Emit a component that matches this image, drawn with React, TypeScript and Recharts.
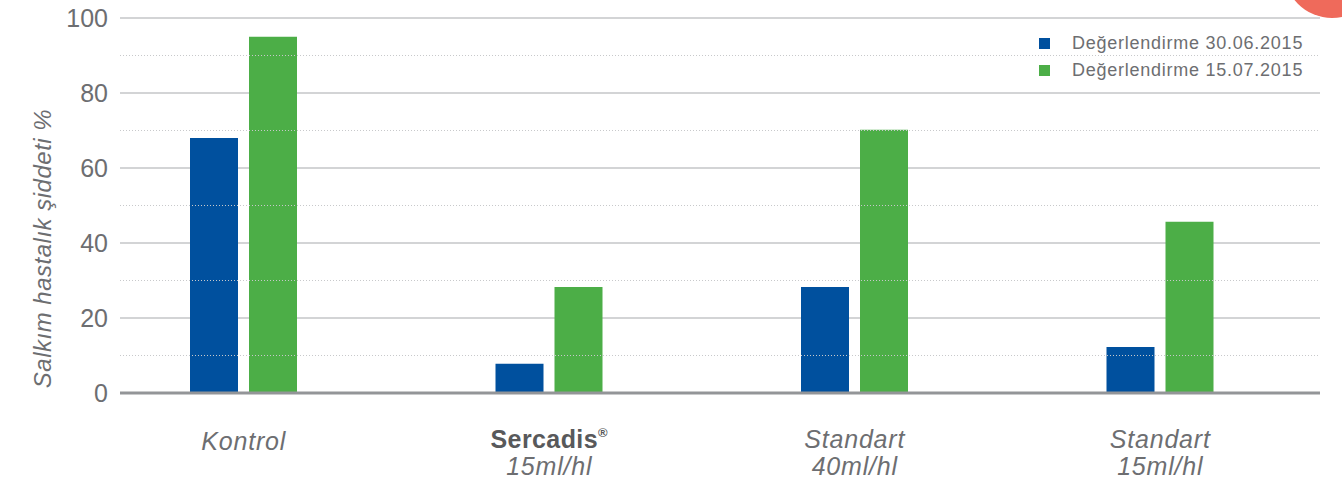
import React from 'react';
import { BarChart, Bar, XAxis, YAxis, CartesianGrid, ReferenceLine, Legend } from 'recharts';

const categoryLine1 = ['Kontrol', 'Sercadis', 'Standart', 'Standart'];
const categoryLine2 = ['', '15ml/hl', '40ml/hl', '15ml/hl'];
const series1Name = 'Değerlendirme 30.06.2015';
const series2Name = 'Değerlendirme 15.07.2015';
const series1Values = [68, 7.8, 28.3, 12.3];
const series2Values = [95, 28.3, 70.2, 45.7];
const yTicks = [0, 20, 40, 60, 80, 100];
const minorTicks = [10, 30, 50, 70, 90];
const yAxisTitle = 'Salkım hastalık şiddeti %';

const BLUE = '#00509e';
const GREEN = '#4cae47';
const TEXT = '#6d6e71';
const FONT = '"Liberation Sans", Arial, sans-serif';

const data = categoryLine1.map((c, i) => ({
  key: `${c} ${categoryLine2[i]}`.trim(),
  s1: series1Values[i],
  s2: series2Values[i],
}));

const XTick = (props: any) => {
  const { x, y, payload } = props;
  const i = payload.index;
  const l1 = categoryLine1[i];
  const l2 = categoryLine2[i];
  const bold = l1 === 'Sercadis';
  if (!l2) {
    return (
      <text x={x} y={y + 49} textAnchor="middle" fill={TEXT} fontSize={25} fontStyle="italic" fontFamily={FONT} letterSpacing={0.8}>
        {l1}
      </text>
    );
  }
  return (
    <g>
      <text x={x} y={y + 47} textAnchor="middle" fill={bold ? '#58595b' : TEXT} fontSize={25} fontWeight={bold ? 'bold' : 'normal'} fontStyle={bold ? 'normal' : 'italic'} fontFamily={FONT} letterSpacing={bold ? 0.4 : 0.8}>
        {l1}
        {bold ? <tspan fontSize={13} dy={-11} fontWeight="bold">®</tspan> : null}
      </text>
      <text x={x} y={y + 74} textAnchor="middle" fill={TEXT} fontSize={25} fontStyle="italic" fontFamily={FONT} letterSpacing={0.8}>
        {l2}
      </text>
    </g>
  );
};

const LegendContent = () => {
  const items = [
    { name: series1Name, color: BLUE },
    { name: series2Name, color: GREEN },
  ];
  return (
    <div style={{ fontFamily: FONT, fontSize: 18, color: TEXT, letterSpacing: 0.75 }}>
      {items.map((it) => (
        <div key={it.name} style={{ display: 'flex', alignItems: 'center', height: 27 }}>
          <span style={{ display: 'inline-block', width: 11, height: 11, background: it.color, marginRight: 22 }} />
          <span>{it.name}</span>
        </div>
      ))}
    </div>
  );
};

const YLabel = (props: any) => {
  const { viewBox } = props;
  const cx = viewBox.x + 42;
  const cy = viewBox.y + viewBox.height / 2 + 43;
  return (
    <text x={cx} y={cy} transform={`rotate(-90, ${cx}, ${cy})`} textAnchor="middle" dominantBaseline="central" fill={TEXT} fontSize={24} fontStyle="italic" fontFamily={FONT} letterSpacing={0.5}>
      {yAxisTitle}
    </text>
  );
};

export default function App() {
  return (
    <div style={{ position: 'absolute', left: 0, top: 0, width: 1342, height: 482, background: '#fff', overflow: 'hidden' }}>
      <div style={{ position: 'absolute', right: -38, top: -78, width: 96, height: 96, borderRadius: '50%', background: '#ef6a5b' }} />
      <BarChart width={1342} height={482} data={data} margin={{ top: 18, right: 22, bottom: 0, left: 0 }} barSize={48} barGap={11}>
        <CartesianGrid vertical={false} stroke="#a7a9ac" strokeWidth={1} />
        {minorTicks.map((v) => (
          <ReferenceLine key={v} y={v} stroke="#c8c9cb" strokeDasharray="1 2" strokeWidth={1} />
        ))}
        <XAxis
          dataKey="key"
          height={89}
          padding={{ left: -29, right: 7 }}
          axisLine={{ stroke: '#939598', strokeWidth: 3 }}
          tickLine={false}
          tick={<XTick />}
          interval={0}
        />
        <YAxis
          width={120}
          domain={[0, 100]}
          ticks={yTicks}
          axisLine={false}
          tickLine={false}
          tickMargin={6}
          tick={{ fill: TEXT, fontSize: 25, fontFamily: FONT }}
          label={<YLabel />}
        />
        <Legend
          layout="horizontal"
          verticalAlign="middle"
          align="center"
          content={<LegendContent />}
          wrapperStyle={{ position: 'absolute', left: 1039, top: 30, width: 290, right: 'auto', bottom: 'auto' }}
        />
        <Bar dataKey="s1" name={series1Name} fill={BLUE} isAnimationActive={false} />
        <Bar dataKey="s2" name={series2Name} fill={GREEN} isAnimationActive={false} />
      </BarChart>
    </div>
  );
}
